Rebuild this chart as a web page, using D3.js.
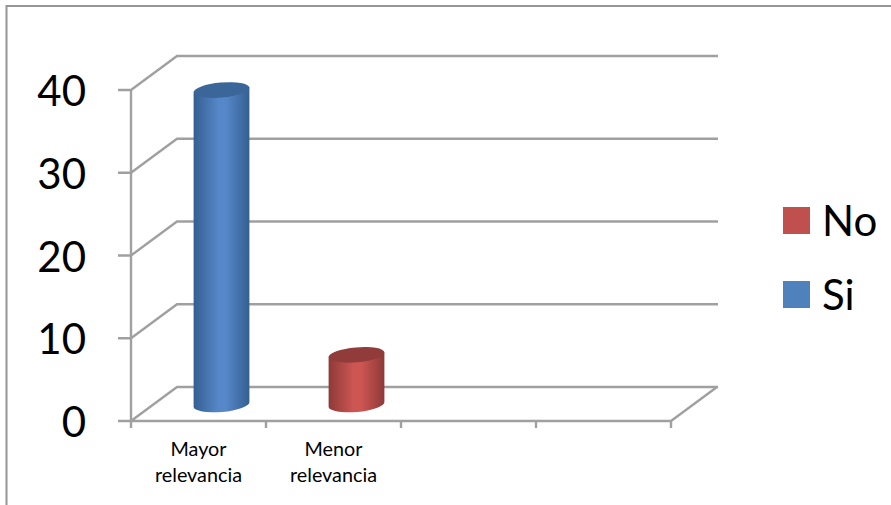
<!DOCTYPE html>
<html>
<head>
<meta charset="utf-8">
<script src="https://cdn.jsdelivr.net/npm/d3@7"></script>
<style>
html,body{margin:0;padding:0;background:#fff;}
svg{display:block;}
text{font-family:Lato,"Open Sans",sans-serif;fill:#000;}
</style>
</head>
<body>
<svg id="chart" width="891" height="505"></svg>
<script>
const categories = [["Mayor","relevancia"],["Menor","relevancia"],[],[]];
const seriesSi = [38, null, null, null];
const seriesNo = [null, 6, null, null];
const yTicks = [0, 10, 20, 30, 40];
const legendItems = [["No","#c0504d"],["Si","#4f81bd"]];

const svg = d3.select("#chart");
const grey = "#a0a0a0";

// Frame of the chart area: only the top and left edges fall inside the canvas
svg.append("path").attr("d","M6.5,505V6H891").attr("fill","none").attr("stroke","#969696").attr("stroke-width",2);

const x = d3.scaleBand().domain(d3.range(categories.length)).range([131,671]);
const y = d3.scaleLinear().domain([0,40]).range([421,90]);
const depth = {dx:46, dy:-34};

// Walls and floor of the 3D box
const wall = svg.append("g").attr("fill","none").attr("stroke",grey).attr("stroke-width",2.4);
yTicks.forEach(t=>{
  const yy = y(t);
  wall.append("path").attr("d",`M118,${yy}H131L${131+depth.dx},${yy+depth.dy}H${671+depth.dx+1}`);
});
wall.append("path").attr("d",`M131,${y(40)}V${y(0)}H671L${671+depth.dx},${y(0)+depth.dy}`);
x.domain().concat([categories.length]).forEach(i=>{
  const xx = i<categories.length ? x(i) : x.range()[1];
  wall.append("path").attr("d",`M${xx},${y(0)}V${y(0)+7}`);
});

// Cylinder shading
const defs = svg.append("defs");
function shade(id, edge, mid){
  const g = defs.append("linearGradient").attr("id",id).attr("x1",0).attr("x2",1).attr("y1",0).attr("y2",0);
  [[0,edge],[0.45,mid],[0.58,mid],[1,edge]].forEach(([o,c])=>g.append("stop").attr("offset",o).attr("stop-color",c));
}
shade("cylSi","#345f92","#5687c8");
shade("cylNo","#8d3a38","#cd5653");

const rx = 28, ry = 7.5, tilt = -5;
function cylinder(values, grad, topFill){
  values.forEach((v,i)=>{
    if(v==null) return;
    const cx = x(i)+x.bandwidth()/2+depth.dx/2;
    const yBase = y(0)+depth.dy/2+0.5;
    const yTop = y(v)+depth.dy/2+0.5;
    const tx = rx*Math.cos(tilt*Math.PI/180), ty = rx*Math.sin(tilt*Math.PI/180);
    const g = svg.append("g");
    g.append("path").attr("fill",`url(#${grad})`)
      .attr("d",`M${cx-tx},${yTop-ty}L${cx-tx},${yBase-ty}A${rx},${ry} ${tilt} 0 0 ${cx+tx},${yBase+ty}L${cx+tx},${yTop+ty}Z`);
    g.append("ellipse").attr("cx",cx).attr("cy",yTop).attr("rx",rx).attr("ry",ry)
      .attr("transform",`rotate(${tilt} ${cx} ${yTop})`).attr("fill",topFill);
  });
}
cylinder(seriesSi,"cylSi","#3a6699");
cylinder(seriesNo,"cylNo","#913c3a");

// Value axis labels
svg.append("g").selectAll("text").data(yTicks).join("text")
  .attr("x",86).attr("y",d=>y(d)+16).attr("text-anchor","end")
  .style("font-size","42px").text(d=>d);

// Category labels
categories.forEach((lines,i)=>{
  lines.forEach((s,k)=>{
    svg.append("text").attr("x",x(i)+x.bandwidth()/2).attr("y",456+k*26)
      .attr("text-anchor","middle").style("font-size","19.8px").text(s);
  });
});

// Legend
const leg = svg.append("g");
legendItems.forEach(([name,color],i)=>{
  const ly = 207+i*74;
  leg.append("rect").attr("x",783).attr("y",ly).attr("width",27).attr("height",27).attr("fill",color);
  leg.append("text").attr("x",822).attr("y",ly+29).style("font-size","42px").text(name);
});
</script>
</body>
</html>
